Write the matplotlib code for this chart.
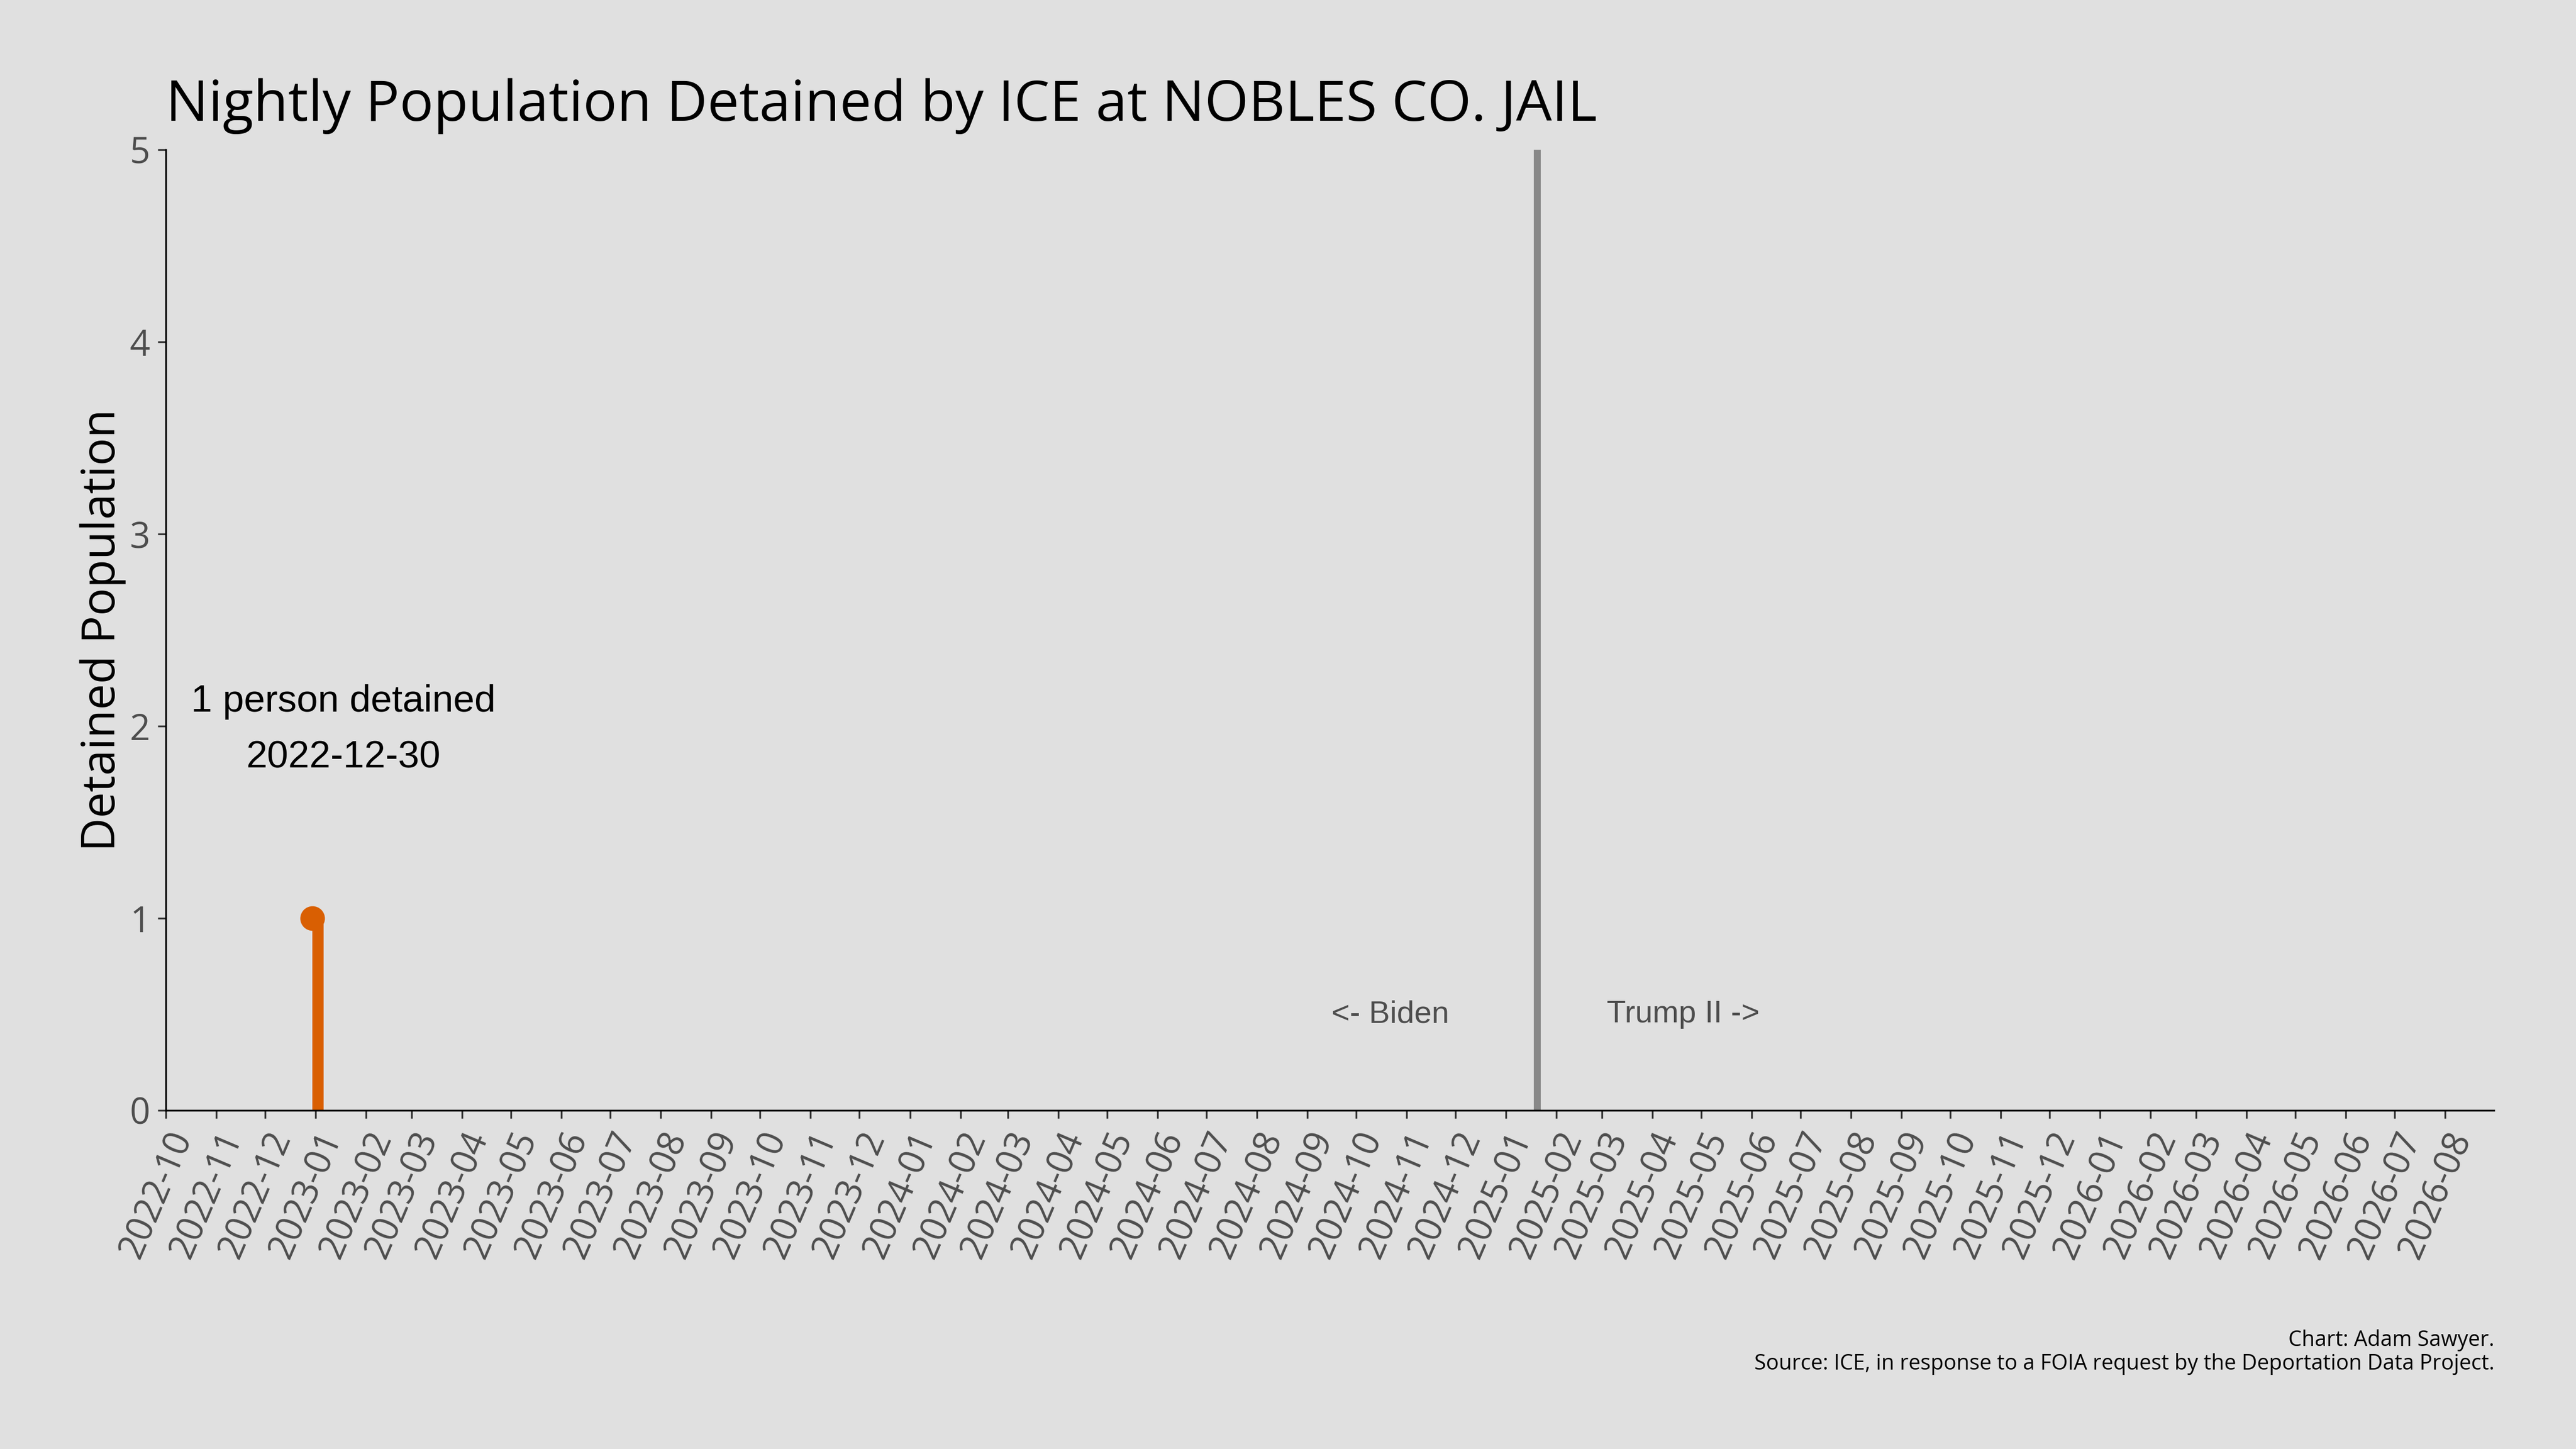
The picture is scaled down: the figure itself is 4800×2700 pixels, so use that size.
import datetime as dt
import matplotlib
matplotlib.use('Agg')
import matplotlib.pyplot as plt
import matplotlib.dates as mdates

# data
facility = 'NOBLES CO. JAIL'
detained_dates = [dt.date(2022, 12, 30)]
detained_counts = [1]
inauguration = dt.date(2025, 1, 20)
x_start = dt.date(2022, 10, 1)
x_end = dt.date(2026, 8, 31)
y_ticks = [0, 1, 2, 3, 4, 5]
era_labels = ['<- Biden', 'Trump II ->']
caption = ('Chart: Adam Sawyer.\n'
           'Source: ICE, in response to a FOIA request by the Deportation Data Project.')

BG = '#e0e0e0'
ORANGE = '#d95f02'
UI_FONT = ['Open Sans', 'DejaVu Sans']
ARIAL = ['Liberation Sans', 'DejaVu Sans']

plt.rcParams['font.family'] = UI_FONT

fig = plt.figure(figsize=(16, 9), dpi=300, facecolor=BG)
ax = fig.add_axes([0.0644, 0.2337, 0.9038, 0.663], facecolor=BG)

# weekly-wide bar from the date plus a dot on the nightly value
ax.bar(detained_dates, detained_counts, width=7, align='edge', color=ORANGE, zorder=2)
ax.plot(detained_dates, detained_counts, 'o', ms=10, color=ORANGE, zorder=3)

for d, c in zip(detained_dates, detained_counts):
    ax.text(d + dt.timedelta(days=19), 1.98, f'{c} person detained\n{d.isoformat()}',
            ha='center', va='center', fontsize=17, family=ARIAL,
            color='black', linespacing=1.75)

ax.axvline(inauguration, color='#888888', lw=3.1, zorder=1)
ax.text(inauguration - dt.timedelta(days=90), 0.5, era_labels[0], ha='center',
        va='center', fontsize=14, family=ARIAL, color='#4d4d4d')
ax.text(inauguration + dt.timedelta(days=90), 0.5, era_labels[1], ha='center',
        va='center', fontsize=14, family=ARIAL, color='#4d4d4d')

ax.set_xlim(x_start, x_end)
ax.set_ylim(0, 5)
ax.set_yticks(y_ticks)
ax.xaxis.set_major_locator(mdates.MonthLocator())
ax.xaxis.set_major_formatter(mdates.DateFormatter('%Y-%m'))

ax.tick_params(colors='#333333', labelcolor='#4d4d4d', labelsize=16)
for lab in ax.get_xticklabels():
    lab.set_rotation(67)
    lab.set_ha('right')
    lab.set_va('top')
    lab.set_rotation_mode('anchor')

for side in ['top', 'right']:
    ax.spines[side].set_visible(False)
for side in ['left', 'bottom']:
    ax.spines[side].set_color('black')

ax.set_title(f'Nightly Population Detained by ICE at {facility}', loc='left',
             fontsize=25.3, pad=13, color='black')
ax.set_ylabel('Detained Population', fontsize=20.7, color='black')
ax.yaxis.set_label_coords(-0.0171, 0.5)

fig.text(0.9683, 0.051, caption, ha='right', va='bottom', fontsize=9.5,
         linespacing=1.1, color='black')

fig.savefig('out.png', dpi=300, facecolor=BG)
